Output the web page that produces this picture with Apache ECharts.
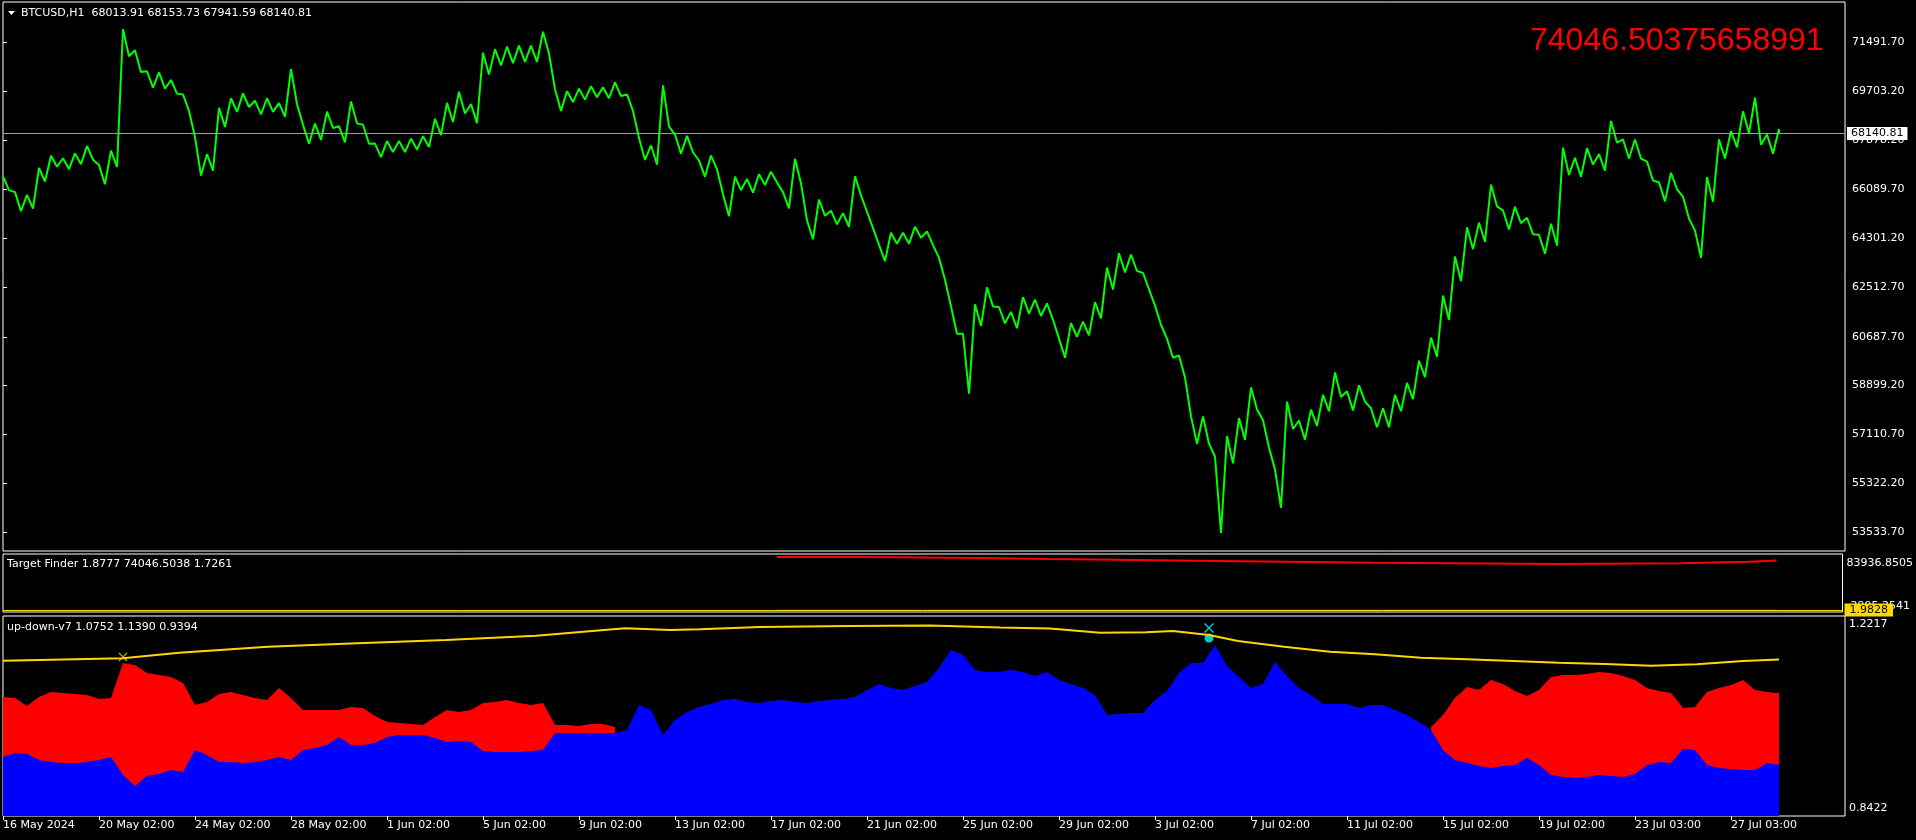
<!DOCTYPE html>
<html><head><meta charset="utf-8">
<script src="https://cdn.jsdelivr.net/npm/echarts@6/dist/echarts.min.js"></script>
<style>html,body{margin:0;padding:0;background:#000;}#c{width:1916px;height:840px;}</style>
</head><body><div id="c"></div>
<script>
// ---------------- DATA ----------------
const STEP = 12;          // bars per sample
const LAST_IDX = 1776;    // index of last bar
const priceHigh = [
66565,65990,65890,66880,67320,67230,67410,67680,66980,67510,
71960,71190,70420,70380,70100,69570,68000,67380,69080,69430,
69610,69340,69430,69250,70500,68460,68500,68940,68410,69310,
68460,67770,67860,67860,67950,68040,68680,69260,69670,69220,
71100,71230,71320,71360,71360,71870,69760,69690,69780,69870,
69830,70010,69570,67970,67700,69900,68100,68050,67150,67330,
65910,66560,66470,66650,66740,65990,67210,64960,65720,65310,
65220,66570,65270,64060,64500,64500,64720,64550,63580,61800,
60800,61880,62500,61780,61600,62140,62050,61910,60620,61190,
61240,61960,63220,63750,63700,63030,61830,60620,60000,57770,
57770,56300,57050,57710,58830,57630,55820,58310,57620,58020,
58560,59380,58690,58910,58070,58070,58560,59000,59810,60660,
62200,63630,64700,64870,66270,65320,65450,65050,64430,64830,
67620,67250,67600,67380,68600,67920,67920,67110,66350,66700,
65820,64580,66540,67920,68230,68950,69450,68100,68300];
const priceLow = [
66065,65290,65390,66380,66920,66830,67010,67180,66280,66910,
70970,70390,69820,69780,69600,68970,66600,66780,68380,68930,
69110,68840,68930,68750,69220,67760,67900,68340,67810,68510,
67760,67270,67460,67460,67550,67640,68080,68560,68870,68520,
70300,70630,70720,70760,70760,71070,68960,69290,69380,69470,
69430,69510,68970,67170,67000,68400,67400,67450,66550,66830,
65110,66060,65970,66250,66340,65390,66310,64260,65120,64810,
64720,65870,64670,63460,64100,64100,64320,64050,62780,60800,
58600,61080,61800,61180,61000,61540,61450,61310,59920,60690,
60740,61360,62420,63050,63100,62430,61130,59920,59200,56770,
56770,53500,56050,56910,58030,56630,54420,57310,56920,57420,
57960,58480,57990,58310,57370,57370,57960,58400,59210,59960,
61300,62730,63900,64170,65470,64620,64850,64450,63730,64030,
66620,66550,67000,66780,67800,67220,67220,66410,65650,66100,
65020,63580,65640,67220,67630,68150,67730,67400,68140.81];
const lastClose = 68140.81;
const priceAxisMin = 52837.4, priceAxisMax = 72957.7;
const priceTicks = [53533.70,55322.20,57110.70,58899.20,60687.70,62512.70,64301.20,66089.70,67878.20,69703.20,71491.70];

const timeTickIdx = [0,96,192,288,384,480,576,672,768,864,960,1056,1152,1248,1344,1440,1536,1632,1728];
const timeLabels = ["16 May 2024","20 May 02:00","24 May 02:00","28 May 02:00","1 Jun 02:00","5 Jun 02:00","9 Jun 02:00","13 Jun 02:00","17 Jun 02:00","21 Jun 02:00","25 Jun 02:00","29 Jun 02:00","3 Jul 02:00","7 Jul 02:00","11 Jul 02:00","15 Jul 02:00","19 Jul 02:00","23 Jul 03:00","27 Jul 03:00"];

// Target Finder panel
const tfRedIdx = [775,856,981,1048,1136,1215,1286,1373,1557,1680,1748,1776];
const tfRedVal = [79517,78044,76570,75097,73624,72150,70677,68762,70235,72150,74046.5038,74046.5038];
const tfBlueIdx = [775,1776];
const tfBlueVal = [1.8777,1.8777];
const tfLevel = 1.9828;
const tfAxisMin = -2995.2541, tfAxisMax = 83936.8505;

// up-down-v7 panel
const udBlue = [
0.9541,0.9617,0.9598,0.9484,0.9446,0.9427,0.9427,0.9446,0.9484,0.9541,
0.9199,0.8990,0.9180,0.9218,0.9294,0.9256,0.9674,0.9579,0.9446,0.9446,
0.9427,0.9446,0.9484,0.9541,0.9484,0.9674,0.9712,0.9769,0.9920,0.9769,
0.9769,0.9806,0.9920,0.9958,0.9958,0.9958,0.9901,0.9825,0.9844,0.9825,
0.9655,0.9636,0.9636,0.9636,0.9655,0.9674,0.9996,0.9996,0.9996,0.9996,
0.9996,0.9996,1.0053,1.0528,1.0433,0.9958,1.0243,1.0395,1.0490,1.0547,
1.0623,1.0642,1.0585,1.0566,1.0604,1.0623,1.0585,1.0566,1.0604,1.0623,
1.0642,1.0680,1.0813,1.0927,1.0851,1.0813,1.0889,1.0965,1.1231,1.1573,
1.1478,1.1193,1.1155,1.1155,1.1193,1.1155,1.1079,1.1155,1.1003,1.0927,
1.0851,1.0718,1.0338,1.0357,1.0376,1.0376,1.0623,1.0794,1.1136,1.1326,
1.1326,1.1668,1.1269,1.1060,1.0851,1.0927,1.1345,1.1079,1.0851,1.0718,
1.0547,1.0547,1.0547,1.0471,1.0528,1.0528,1.0433,1.0338,1.0205,1.0053,
0.9674,0.9484,0.9427,0.9370,0.9332,0.9370,0.9389,0.9522,0.9389,0.9199,
0.9161,0.9142,0.9161,0.9199,0.9180,0.9161,0.9218,0.9389,0.9446,0.9427,
0.9693,0.9674,0.9389,0.9332,0.9313,0.9294,0.9294,0.9427,0.9394];
const udRed = [
1.0680,1.0661,1.0509,1.0680,1.0775,1.0756,1.0737,1.0718,1.0642,1.0661,
1.1326,1.1288,1.1136,1.1098,1.1060,1.0946,1.0528,1.0585,1.0737,1.0775,
1.0718,1.0661,1.0623,1.0851,1.0661,1.0433,1.0433,1.0433,1.0433,1.0490,
1.0471,1.0319,1.0205,1.0186,1.0167,1.0148,1.0300,1.0433,1.0395,1.0433,
1.0566,1.0585,1.0623,1.0566,1.0528,1.0566,1.0148,1.0148,1.0129,1.0167,
1.0167,1.0110,null,null,null,1.0243,null,null,null,null,
null,null,null,null,null,null,null,null,null,null,
null,null,null,null,null,null,null,null,null,null,
null,null,null,null,null,null,null,null,null,null,
null,null,null,null,null,null,null,null,null,null,
null,null,null,null,null,null,null,null,null,null,
null,null,null,null,null,null,null,null,null,1.0110,
1.0338,1.0661,1.0870,1.0813,1.1003,1.0927,1.0794,1.0699,1.0813,1.1060,
1.1098,1.1098,1.1117,1.1155,1.1136,1.1079,1.1003,1.0851,1.0794,1.0756,
1.0471,1.0490,1.0775,1.0851,1.0908,1.1003,1.0813,1.0775,1.0752];
const udYellowIdx = [0,120,176,265,354,443,533,622,667,697,757,847,927,997,1047,1097,1143,1170,1206,1235,1281,1327,1372,1418,1464,1510,1556,1602,1648,1694,1740,1776];
const udYellowVal = [1.1369,1.1414,1.1521,1.1635,1.1699,1.1762,1.1843,1.1984,1.1951,1.1965,1.2008,1.2027,1.2037,1.1999,1.1980,1.1900,1.1908,1.1932,1.1857,1.1743,1.1635,1.1540,1.1490,1.1426,1.1395,1.1363,1.1331,1.1306,1.1274,1.1301,1.1363,1.1390];
const udMarkYellow = [[120,1.1439]];
const udMarkCyanX = [[1206,1.1989]];
const udMarkCyanDot = [[1206,1.1800]];
const udAxisMin = 0.8422, udAxisMax = 1.2217;

// ---------------- CHART ----------------
const FONT = 'DejaVu Sans';
const chart = echarts.init(document.getElementById('c'), null, {renderer:'canvas'});

const priceData = [];
priceHigh.forEach((h,k)=>{
  priceData.push([k*STEP, h]);
  priceData.push([Math.min(k*STEP + STEP/2, LAST_IDX), priceLow[k]]);
});
const pairs = (xs, vs) => xs.map((x,i)=>[x, vs[i]]);
const stepped = arr => arr.map((v,k)=>[Math.min(k*STEP, LAST_IDX), v]);

const XPATH = 'path://M0,1L1,0L5,4L9,0L10,1L6,5L10,9L9,10L5,6L1,10L0,9L4,5Z';
const tfTopLbl = tfAxisMax - (tfAxisMax - tfAxisMin)*9/58;
const tfBotLbl = tfAxisMin + (tfAxisMax - tfAxisMin)*6/58;
const udTopLbl = udAxisMax - (udAxisMax - udAxisMin)*8/200;
const udBotLbl = udAxisMin + (udAxisMax - udAxisMin)*8/200;

const gridBase = {left:3, width:1842, show:true, borderColor:'#ffffff', borderWidth:1, backgroundColor:'#000'};
const hiddenX = i => ({type:'value', gridIndex:i, min:0, max:1842, show:false});

const option = {
  animation:false,
  backgroundColor:'#000',
  grid:[
    Object.assign({top:2, height:549}, gridBase),
    Object.assign({top:554, height:58}, gridBase),
    Object.assign({top:616, height:200}, gridBase)
  ],
  xAxis:[
    hiddenX(0), hiddenX(1),
    {type:'value', gridIndex:2, min:0, max:1842,
     axisLine:{show:false}, splitLine:{show:false},
     axisTick:{show:true, customValues:timeTickIdx, length:4, lineStyle:{color:'#fff'}},
     axisLabel:{customValues:timeTickIdx, formatter:v=>timeLabels[timeTickIdx.indexOf(v)], align:'left', color:'#fff', margin:4, fontFamily:FONT, fontSize:11}}
  ],
  yAxis:[
    {type:'value', gridIndex:0, position:'right', min:priceAxisMin, max:priceAxisMax,
     splitLine:{show:false}, axisLine:{show:false},
     axisTick:{show:true, customValues:priceTicks, length:4, lineStyle:{color:'#fff'}},
     axisLabel:{customValues:priceTicks, formatter:v=>v.toFixed(2), color:'#fff', margin:7, fontFamily:FONT, fontSize:11}},
    {type:'value', gridIndex:1, position:'right', min:tfAxisMin, max:tfAxisMax,
     splitLine:{show:false}, axisLine:{show:false}, axisTick:{show:false},
     axisLabel:{customValues:[tfBotLbl, tfTopLbl], formatter:v=> (v>(tfAxisMin+tfAxisMax)/2 ? tfAxisMax : tfAxisMin).toFixed(4), color:'#fff', margin:4, fontFamily:FONT, fontSize:11}},
    {type:'value', gridIndex:2, position:'right', min:udAxisMin, max:udAxisMax,
     splitLine:{show:false}, axisLine:{show:false}, axisTick:{show:false},
     axisLabel:{customValues:[udBotLbl, udTopLbl], formatter:v=> (v>(udAxisMin+udAxisMax)/2 ? udAxisMax : udAxisMin).toFixed(4), color:'#fff', margin:4, fontFamily:FONT, fontSize:11}}
  ],
  series:[
    {type:'line', xAxisIndex:0, yAxisIndex:0, data:priceData, symbol:'none', clip:false,
     lineStyle:{color:'#00ff00', width:2}, emphasis:{disabled:true},
     markLine:{silent:true, symbol:['none','none'], animation:false,
       lineStyle:{color:'#a0a0a0', width:1, type:'solid'},
       label:{show:true, position:'end', distance:2, formatter:lastClose.toFixed(2), backgroundColor:'#fff', color:'#000', padding:[1,4], fontFamily:FONT, fontSize:11},
       data:[{yAxis:lastClose}]}},
    {type:'line', xAxisIndex:1, yAxisIndex:1, data:pairs(tfRedIdx, tfRedVal), step:'end', symbol:'none',
     lineStyle:{color:'#ff0000', width:2}, emphasis:{disabled:true}},
    {type:'line', xAxisIndex:1, yAxisIndex:1, data:pairs(tfBlueIdx, tfBlueVal), symbol:'none', clip:false, z:3,
     lineStyle:{color:'#0000ff', width:2}, emphasis:{disabled:true},
     markLine:{silent:true, symbol:['none','none'], animation:false,
       lineStyle:{color:'#ffd700', width:1, type:'solid'},
       label:{show:true, position:'end', distance:2, formatter:tfLevel.toFixed(4), backgroundColor:'#ffd700', color:'#000', padding:[1,5], fontFamily:FONT, fontSize:11},
       data:[{yAxis:tfLevel}]}},
    {type:'line', xAxisIndex:2, yAxisIndex:2, data:stepped(udRed), symbol:'none', connectNulls:false,
     lineStyle:{width:0, color:'#ff0000'}, areaStyle:{color:'#ff0000', opacity:1, origin:'start'}, emphasis:{disabled:true}},
    {type:'line', xAxisIndex:2, yAxisIndex:2, data:stepped(udBlue), symbol:'none',
     lineStyle:{width:0, color:'#0000ff'}, areaStyle:{color:'#0000ff', opacity:1, origin:'start'}, emphasis:{disabled:true}},
    {type:'line', xAxisIndex:2, yAxisIndex:2, data:pairs(udYellowIdx, udYellowVal), symbol:'none',
     lineStyle:{color:'#ffd700', width:2}, emphasis:{disabled:true}},
    {type:'scatter', xAxisIndex:2, yAxisIndex:2, data:udMarkYellow, symbol:XPATH, symbolSize:[9,9],
     itemStyle:{color:'#f5c400'}, emphasis:{disabled:true}},
    {type:'scatter', xAxisIndex:2, yAxisIndex:2, data:udMarkCyanX, symbol:XPATH, symbolSize:[10,10],
     itemStyle:{color:'#00ffff'}, emphasis:{disabled:true}},
    {type:'scatter', xAxisIndex:2, yAxisIndex:2, data:udMarkCyanDot, symbol:'circle', symbolSize:9,
     itemStyle:{color:'#00ffff'}, emphasis:{disabled:true}}
  ],
  graphic:[
    {type:'polygon', shape:{points:[[8,11],[15,11],[11.5,15]]}, style:{fill:'#fff'}},
    {type:'text', x:21, y:13, style:{text:'BTCUSD,H1  68013.91 68153.73 67941.59 68140.81', fill:'#fff', font:'11px "DejaVu Sans"', textVerticalAlign:'middle'}},
    {type:'text', x:1530, y:41.5, style:{text:'74046.50375658991', fill:'#ff0000', font:'32px "Liberation Sans"', textVerticalAlign:'middle'}},
    {type:'text', x:7, y:564, style:{text:'Target Finder 1.8777 74046.5038 1.7261', fill:'#fff', font:'11px "DejaVu Sans"', textVerticalAlign:'middle'}},
    {type:'text', x:7, y:627, style:{text:'up-down-v7 1.0752 1.1390 0.9394', fill:'#fff', font:'11px "DejaVu Sans"', textVerticalAlign:'middle'}}
  ]
};
chart.setOption(option);
</script></body></html>
